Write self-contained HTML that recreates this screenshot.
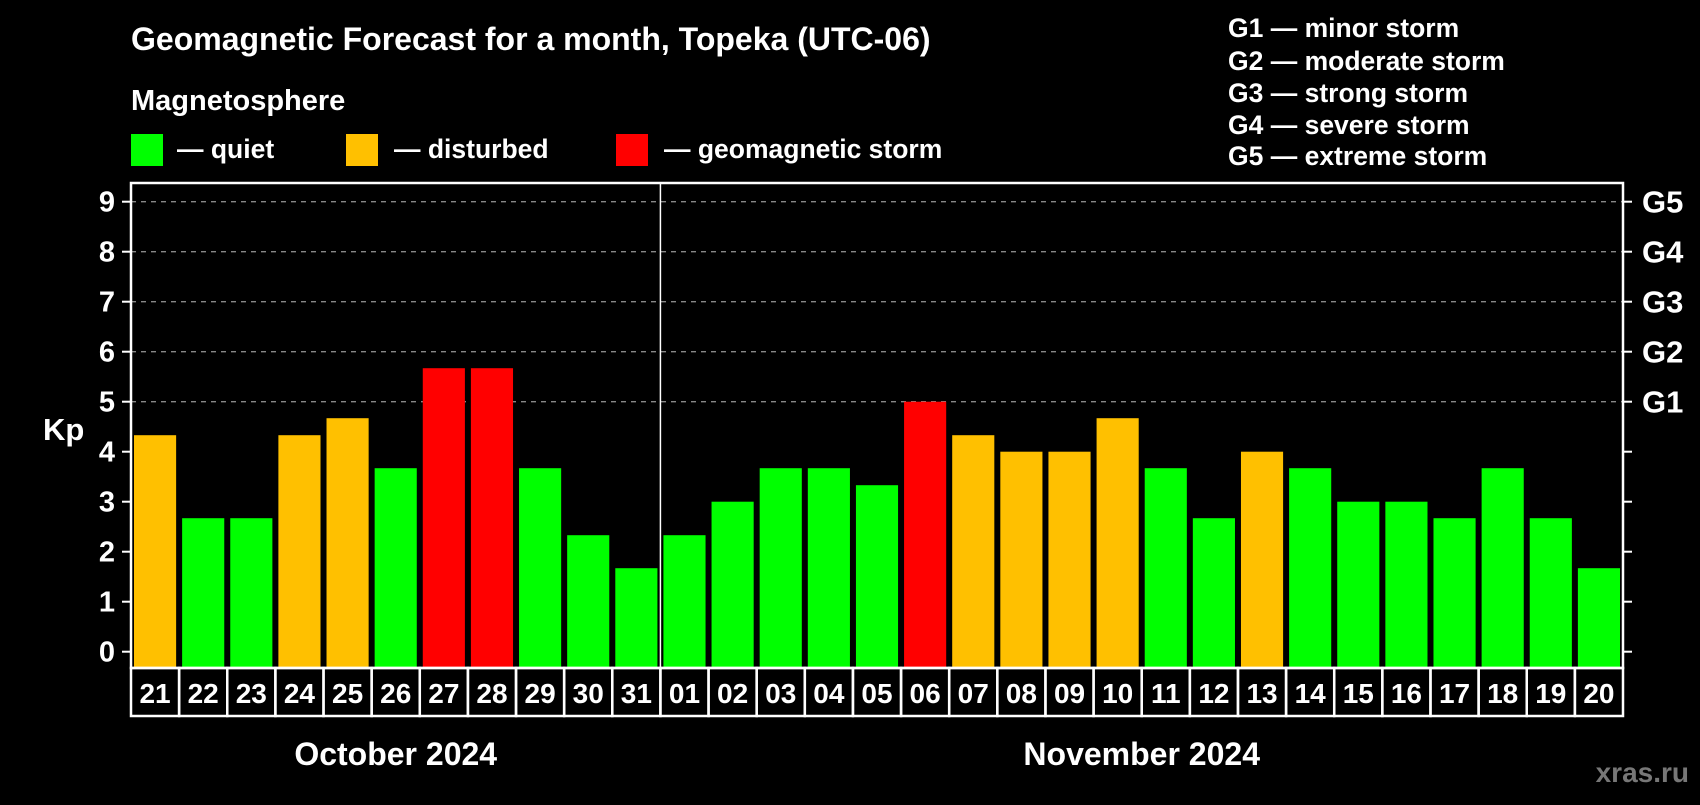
<!DOCTYPE html>
<html><head><meta charset="utf-8"><style>
body{margin:0;background:#000;width:1700px;height:800px;overflow:hidden;font-family:"Liberation Sans",sans-serif;font-weight:bold;color:#fff}
</style></head><body>
<svg id="c" width="1700" height="800" xmlns="http://www.w3.org/2000/svg" font-family="Liberation Sans, sans-serif" font-weight="bold">
<text x="131" y="50" font-size="32" fill="#fff">Geomagnetic Forecast for a month, Topeka (UTC-06)</text>
<text x="131" y="110" font-size="29" fill="#fff">Magnetosphere</text>
<rect x="131" y="134" width="32" height="32" fill="#00ff00"/>
<text x="177" y="158" font-size="26.5" fill="#fff">— quiet</text>
<rect x="346" y="134" width="32" height="32" fill="#ffc000"/>
<text x="394" y="158" font-size="26.5" fill="#fff">— disturbed</text>
<rect x="616" y="134" width="32" height="32" fill="#ff0000"/>
<text x="664" y="158" font-size="26.5" fill="#fff">— geomagnetic storm</text>
<g font-size="26.5" fill="#fff">
<text x="1228" y="37">G1 — minor storm</text>
<text x="1228" y="70">G2 — moderate storm</text>
<text x="1228" y="102">G3 — strong storm</text>
<text x="1228" y="134">G4 — severe storm</text>
<text x="1228" y="165">G5 — extreme storm</text>
</g>
<text x="43" y="440" font-size="31" fill="#fff">Kp</text>
<text x="1689" y="782" font-size="28" fill="#777" text-anchor="end">xras.ru</text>
<g id="plot"></g>
</svg>
<script>
const days=["21","22","23","24","25","26","27","28","29","30","31","01","02","03","04","05","06","07","08","09","10","11","12","13","14","15","16","17","18","19","20"];
const kp=[4.33,2.67,2.67,4.33,4.67,3.67,5.67,5.67,3.67,2.33,1.67,2.33,3,3.67,3.67,3.33,5,4.33,4,4,4.67,3.67,2.67,4,3.67,3,3,2.67,3.67,2.67,1.67];
const yTicks=[0,1,2,3,4,5,6,7,8,9];
const gLabels=["G1","G2","G3","G4","G5"];
const gLevels=[5,6,7,8,9];
const months=["October 2024","November 2024"];
const monthSpans=[[0,11],[11,31]];
const L=131,R=1623,T=183,B=668,Y0=651.7,U=50;
const ns="http://www.w3.org/2000/svg",g=document.getElementById('plot');
const y=v=>Y0-v*U, sw=(R-L)/days.length, x=i=>L+i*sw;
function mk(t,a,txt){const e=document.createElementNS(ns,t);for(const k in a)e.setAttribute(k,a[k]);if(txt!=null)e.textContent=txt;g.appendChild(e);return e;}
yTicks.forEach(v=>{
 if(v>=5){const l=mk('line',{x1:L,x2:R,y1:y(v),y2:y(v),stroke:'#888','stroke-width':1.3,'stroke-dasharray':'5,5'});
 
 }
 const t1=mk('line',{x1:L-9,x2:L,y1:y(v),y2:y(v),stroke:'#fff','stroke-width':2});
 
 
 const t2=mk('line',{x1:R,x2:R+9,y1:y(v),y2:y(v),stroke:'#fff','stroke-width':2});
 
 
 const tl=mk('text',{x:115,y:y(v)+10,'font-size':29,fill:'#fff','text-anchor':'end'},String(v));
 
 
});
gLevels.forEach((v,i)=>{
 const t=mk('text',{x:1642,y:y(v)+11,'font-size':31,fill:'#fff'},gLabels[i]);
 
 
});
kp.forEach((v,i)=>{
 const c=v>=5?'#ff0000':v>=4?'#ffc000':'#00ff00';
 const b=mk('rect',{x:x(i)+3,y:y(v),width:sw-6,height:B-y(v),fill:c});
 
 
 const cell=mk('rect',{x:x(i),y:B,width:sw,height:48,fill:'none',stroke:'#fff','stroke-width':2.5});
 
 
 const t=mk('text',{x:x(i)+sw/2,y:B+35,'font-size':28,fill:'#fff','text-anchor':'middle'},days[i]);
 
 
});
const fr=mk('rect',{x:L,y:T,width:R-L,height:B-T,fill:'none',stroke:'#fff','stroke-width':2.5});


const dv=mk('line',{x1:x(11),x2:x(11),y1:T,y2:B,stroke:'#fff','stroke-width':1.5});


months.forEach((m,i)=>{
 const s=monthSpans[i];
 const t=mk('text',{x:(x(s[0])+x(s[1]))/2,y:765,'font-size':32,fill:'#fff','text-anchor':'middle'},m);
 
 
});
</script>
</body></html>
